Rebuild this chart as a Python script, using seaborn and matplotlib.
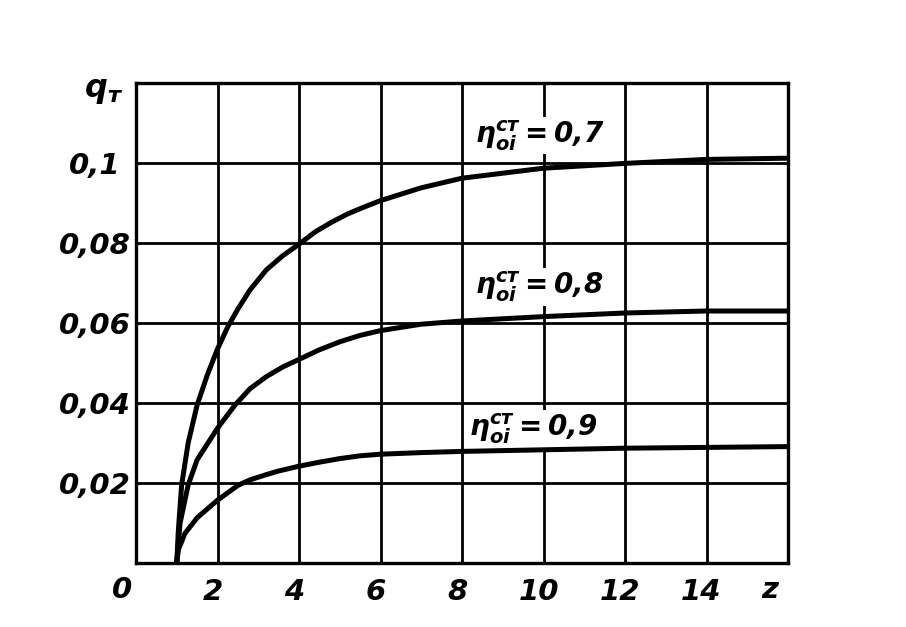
import pandas as pd
import matplotlib
matplotlib.use("Agg")
import matplotlib.pyplot as plt
import matplotlib.transforms as mtransforms
import seaborn as sns

# readings (z, q_T) for each efficiency
z_07 = [1, 1.04, 1.12, 1.28, 1.5, 1.75, 2, 2.25, 2.5, 2.8, 3.2, 3.6, 4,
        4.4, 4.8, 5.2, 5.6, 6, 7, 8, 10, 12, 14, 16]
q_07 = [0, 0.0083, 0.0195, 0.030, 0.0395, 0.047, 0.0535, 0.059, 0.0635,
        0.0683, 0.0733, 0.0768, 0.0797, 0.0828, 0.0852, 0.0873, 0.0890,
        0.0906, 0.0938, 0.0962, 0.0987, 0.0999, 0.1009, 0.1012]
z_08 = [1, 1.08, 1.28, 1.5, 2, 2.43, 2.8, 3.2, 3.6, 4, 4.5, 5, 5.5, 6, 7,
        8, 10, 12, 14, 16]
q_08 = [0, 0.0099, 0.0195, 0.0258, 0.0337, 0.0395, 0.0436, 0.0466, 0.0490,
        0.0509, 0.0533, 0.0553, 0.0569, 0.0581, 0.0597, 0.0605, 0.0616,
        0.0625, 0.0630, 0.0630]
z_09 = [1, 1.04, 1.2, 1.5, 2, 2.5, 2.8, 3.2, 3.5, 4, 4.5, 5, 5.5, 6, 7, 8,
        10, 12, 14, 16]
q_09 = [0, 0.0033, 0.0074, 0.0113, 0.0157, 0.0194, 0.0208, 0.0221, 0.0230,
        0.0242, 0.0252, 0.0261, 0.0268, 0.0272, 0.0276, 0.0279, 0.0283,
        0.0287, 0.0289, 0.0291]
eta = ["0,7", "0,8", "0,9"]

x_ticks = [2, 4, 6, 8, 10, 12, 14]
y_ticks = [0.02, 0.04, 0.06, 0.08, 0.1]
y_tick_labels = ["0,02", "0,04", "0,06", "0,08", "0,1"]

df = pd.concat([
    pd.DataFrame({"z": zz, "q": qq, "eta": e})
    for zz, qq, e in zip([z_07, z_08, z_09], [q_07, q_08, q_09], eta)
])

sns.set_theme(style="white")
plt.rcParams["font.family"] = ["DejaVu Sans"]
plt.rcParams["font.style"] = "italic"
plt.rcParams["font.weight"] = "bold"
plt.rcParams["text.color"] = "black"
plt.rcParams["mathtext.fontset"] = "dejavusans"
plt.rcParams["mathtext.default"] = "bfit"

fig = plt.figure(figsize=(9.06, 6.27), dpi=100)
ax = fig.add_axes([136 / 906, 64 / 627, 652 / 906, 480 / 627])

sns.lineplot(
    data=df, x="z", y="q", hue="eta",
    palette=["black"] * 3, linewidth=3.6,
    estimator=None, sort=False, legend=False, ax=ax, zorder=3,
)

ax.set_xlim(0, 16)
ax.set_ylim(0, 0.12)
ax.set_xticks(x_ticks)
ax.set_xticklabels([str(t) for t in x_ticks])
ax.set_yticks(y_ticks)
ax.set_yticklabels(y_tick_labels)
ax.tick_params(axis="both", length=0, labelsize=21, colors="black")
ax.tick_params(axis="x", pad=11)
ax.tick_params(axis="y", pad=29.5)
for lab in ax.get_yticklabels():
    lab.set_horizontalalignment("center")
shift = mtransforms.ScaledTranslation(-5 / 100, 0, fig.dpi_scale_trans)
for lab in ax.get_xticklabels():
    lab.set_transform(lab.get_transform() + shift)
ax.set_xlabel("")
ax.set_ylabel("")

ax.grid(True, color="black", linewidth=2.0)
ax.set_axisbelow(True)
for sp in ax.spines.values():
    sp.set_visible(True)
    sp.set_color("black")
    sp.set_linewidth(2.4)

# axis names and the corner zero
ax.text(-0.35, -0.0068, "0", fontsize=21, ha="center", va="center")
ax.text(15.56, -0.0068, "z", fontsize=21, ha="center", va="center")
ax.text(-0.05, 0.985, r"$q_{т}$", fontsize=23, ha="center", va="center",
        transform=ax.transAxes)

# curve labels with white boxes over the grid
box = dict(facecolor="white", edgecolor="none", pad=1)
for (lx, ly), e in zip([(9.9, 0.1068), (9.9, 0.069), (9.75, 0.0335)], eta):
    ax.text(lx, ly, r"$\eta^{ст}_{oi}=" + e.replace(",", "{,}") + "$",
            fontsize=20, ha="center", va="center", bbox=box, zorder=2.5)

fig.savefig("out.png", dpi=100)
